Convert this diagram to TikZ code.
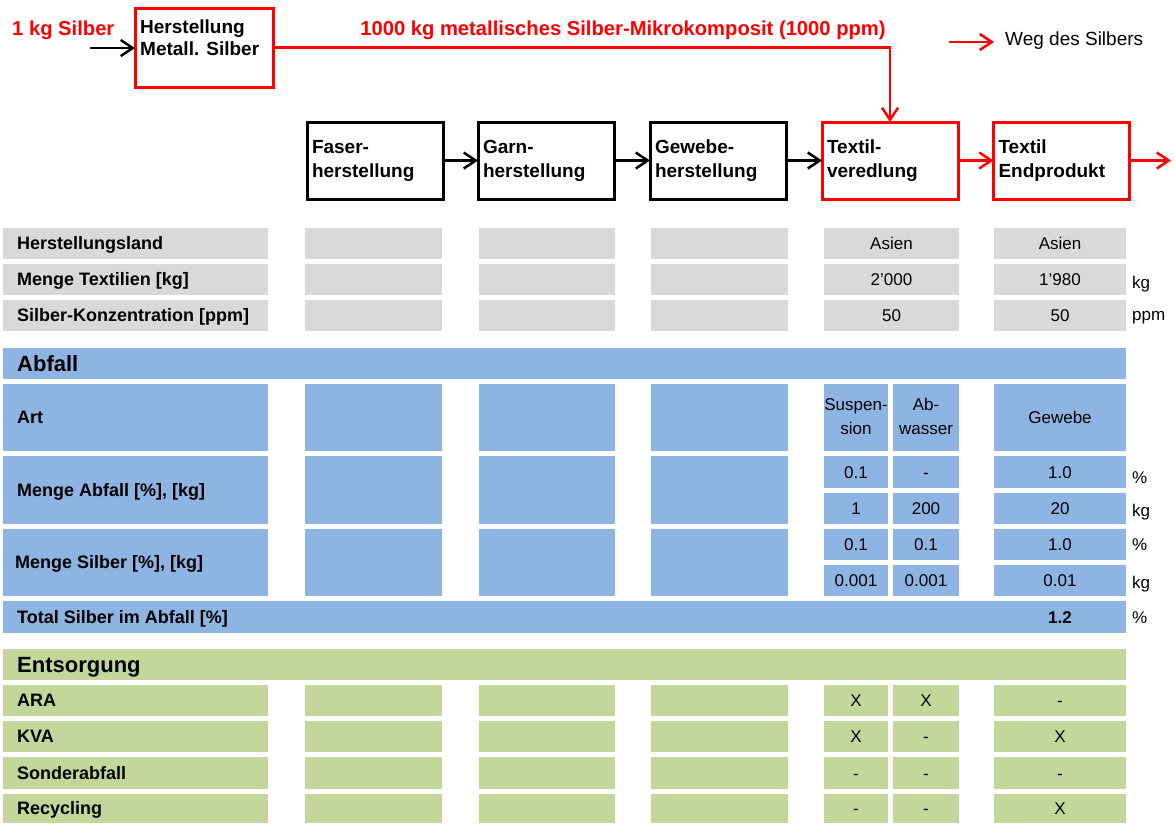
\documentclass[tikz,border=0pt]{standalone}
\usepackage{fontspec}
\setmainfont{Liberation Sans}
\usetikzlibrary{arrows.meta}
\definecolor{cgray}{HTML}{D9D9D9}
\definecolor{cblue}{HTML}{8EB4E3}
\definecolor{cgreen}{HTML}{C4D79B}
\definecolor{cred}{HTML}{FF0000}
\newcommand{\cellbox}[6]{\node[#2, minimum width={(#5)-(#3)}, minimum height={(#6)-(#4)}] (#1) at ({((#3)+(#5))/2},{((#4)+(#6))/2}) {};}
\begin{document}
\begin{tikzpicture}[x=1pt,y=-1pt,
  cellbase/.style={draw=none, inner sep=0pt, outer sep=0pt},
  gcell/.style={cellbase, fill=cgray},
  bcell/.style={cellbase, fill=cblue},
  ncell/.style={cellbase, fill=cgreen},
  lbl/.style={font=\fontsize{18}{21}\selectfont\bfseries, anchor=west, inner sep=0pt, text height=12.9pt, text depth=0pt},
  hdr/.style={font=\fontsize{22}{26}\selectfont\bfseries, anchor=west, inner sep=0pt, text height=15.8pt, text depth=0pt},
  val/.style={font=\fontsize{17}{20}\selectfont, inner sep=0pt, text height=12.2pt, text depth=0pt},
  valtwo/.style={font=\fontsize{17}{24}\selectfont, inner sep=0pt, align=center},
  unit/.style={val, anchor=west},
  pbox/.style={draw=black, line width=3pt, inner xsep=5pt, inner ysep=0pt, outer sep=0pt,
    text width=126pt, minimum height=77pt, align=left, font=\fontsize{19}{24}\selectfont\bfseries},
  rbox/.style={pbox, draw=cred},
  arr/.style={line width=2.5pt, -{Straight Barb[length=12pt,width=16pt]}},
  rarr/.style={arr, draw=cred},
  redtitle/.style={font=\fontsize{20.2}{24}\selectfont\bfseries, text=cred, inner sep=0pt}
]
\useasboundingbox (0,0) rectangle (1175,823);

% ---------- top flow ----------
\node[rbox, minimum height=79pt, text width=128pt] (hm) at (204,47.5) {};
\node[font=\fontsize{19}{22}\selectfont\bfseries, anchor=north west, inner sep=0pt, align=left] (hmt) at (140,17.6) {\strut Herstellung\\\strut Metall. Silber};
\node[redtitle, anchor=base west] (kg1) at (12,35) {1 kg Silber};
\node[redtitle, anchor=base] (mk) at (623,35) {1000 kg metallisches Silber-Mikrokomposit (1000 ppm)};
\coordinate (in) at (90,48);
\draw[arr] (in) -- (in -| hm.west);

\node[pbox] (fa) at (375,160.5) {\strut Faser-\\\strut herstellung};
\node[pbox] (ga) at (546,160.5) {\strut Garn-\\\strut herstellung};
\node[pbox] (ge) at (718,160.5) {\strut Gewebe-\\\strut herstellung};
\node[rbox] (tv) at (890,160.5) {\strut Textil-\\\strut veredlung};
\node[rbox] (te) at (1061.5,160.5) {\strut Textil\\\strut Endprodukt};
\coordinate (out) at (1171,160.5);

\draw[arr] (fa) -- (ga);
\draw[arr] (ga) -- (ge);
\draw[arr] (ge) -- (tv);
\draw[rarr] (tv) -- (te);
\draw[rarr] (te) -- (out);
\draw[rarr] (hm.east) -| (tv.north);

% legend
\coordinate (lga) at (949,42);
\coordinate (lgb) at (994,42);
\draw[rarr] (lga) -- (lgb);
\node[font=\fontsize{19}{22}\selectfont, anchor=base west, inner sep=0pt] (lgt) at (1005,45) {Weg des Silbers};

% ---------- gray rows ----------
\foreach \n/\ya/\yb in {1/228/259, 2/264/295, 3/300/331}{
  \cellbox{gL\n}{gcell}{3}{\ya}{268}{\yb}
  \cellbox{gA\n}{gcell}{305}{\ya}{442}{\yb}
  \cellbox{gB\n}{gcell}{479}{\ya}{615}{\yb}
  \cellbox{gC\n}{gcell}{651}{\ya}{788}{\yb}
  \cellbox{gD\n}{gcell}{824}{\ya}{959}{\yb}
  \cellbox{gE\n}{gcell}{994}{\ya}{1126}{\yb}
}
\node[lbl] (tg1) at ([xshift=14pt]gL1.west) {Herstellungsland};
\node[lbl] (tg2) at ([xshift=14pt]gL2.west) {Menge Textilien [kg]};
\node[lbl] (tg3) at ([xshift=14pt]gL3.west) {Silber-Konzentration [ppm]};
\node[val] (vD1) at (gD1) {Asien};
\node[val] (vE1) at (gE1) {Asien};
\node[val] (vD2) at (gD2) {2'000};
\node[val] (vE2) at (gE2) {1'980};
\node[val] (vD3) at (gD3) {50};
\node[val] (vE3) at (gE3) {50};
\node[unit] (u1) at (1132,282) {kg};
\node[unit] (u2) at (1132,314) {ppm};

% ---------- Abfall ----------
\cellbox{bH}{bcell}{3}{348}{1126}{379}
\node[hdr] (tbH) at ([xshift=14pt]bH.west) {Abfall};

\foreach \n/\ya/\yb in {1/384/451, 2/456/524, 3/529/596}{
  \cellbox{bL\n}{bcell}{3}{\ya}{268}{\yb}
  \cellbox{bA\n}{bcell}{305}{\ya}{442}{\yb}
  \cellbox{bB\n}{bcell}{479}{\ya}{615}{\yb}
  \cellbox{bC\n}{bcell}{651}{\ya}{788}{\yb}
}
\cellbox{bD1a}{bcell}{824}{384}{888}{451}
\cellbox{bD1b}{bcell}{893}{384}{959}{451}
\cellbox{bE1}{bcell}{994}{384}{1126}{451}
\foreach \n/\ya/\yb in {2/456/488, 3/493/524, 4/529/560, 5/565/596}{
  \cellbox{bD\n a}{bcell}{824}{\ya}{888}{\yb}
  \cellbox{bD\n b}{bcell}{893}{\ya}{959}{\yb}
  \cellbox{bE\n}{bcell}{994}{\ya}{1126}{\yb}
}
\cellbox{bT}{bcell}{3}{601}{1126}{633}

\node[lbl] (tb1) at ([xshift=14pt]bL1.west) {Art};
\node[lbl] (tb2) at ([xshift=14pt]bL2.west) {Menge Abfall [\%], [kg]};
\node[lbl] (tb3) at ([xshift=12pt]bL3.west) {Menge Silber [\%], [kg]};
\node[lbl] (tbT) at ([xshift=14pt]bT.west) {Total Silber im Abfall [\%]};

\node[valtwo] (vSu) at (bD1a) {\strut Suspen-\\\strut sion};
\node[valtwo] (vAb) at (bD1b) {\strut Ab-\\\strut wasser};
\node[val] (vGw) at (bE1) {Gewebe};
\node[val] (v2a) at (bD2a) {0.1};
\node[val] (v2b) at (bD2b) {-};
\node[val] (v2e) at (bE2) {1.0};
\node[val] (v3a) at (bD3a) {1};
\node[val] (v3b) at (bD3b) {200};
\node[val] (v3e) at (bE3) {20};
\node[val] (v4a) at (bD4a) {0.1};
\node[val] (v4b) at (bD4b) {0.1};
\node[val] (v4e) at (bE4) {1.0};
\node[val] (v5a) at (bD5a) {0.001};
\node[val] (v5b) at (bD5b) {0.001};
\node[val] (v5e) at (bE5) {0.01};
\node[val, font=\fontsize{17}{20}\selectfont\bfseries] (vT) at (1060,617) {1.2};
\node[unit] (u3) at (1132,477) {\%};
\node[unit] (u4) at (1132,510) {kg};
\node[unit] (u5) at (1132,544) {\%};
\node[unit] (u6) at (1132,582) {kg};
\node[unit] (u7) at (1132,617) {\%};

% ---------- Entsorgung ----------
\cellbox{nH}{ncell}{3}{649}{1126}{680}
\node[hdr] (tnH) at ([xshift=14pt]nH.west) {Entsorgung};
\foreach \n/\ya/\yb in {1/685/716, 2/721/752, 3/757/789, 4/794/823}{
  \cellbox{nL\n}{ncell}{3}{\ya}{268}{\yb}
  \cellbox{nA\n}{ncell}{305}{\ya}{442}{\yb}
  \cellbox{nB\n}{ncell}{479}{\ya}{615}{\yb}
  \cellbox{nC\n}{ncell}{651}{\ya}{788}{\yb}
  \cellbox{nD\n a}{ncell}{824}{\ya}{888}{\yb}
  \cellbox{nD\n b}{ncell}{893}{\ya}{959}{\yb}
  \cellbox{nE\n}{ncell}{994}{\ya}{1126}{\yb}
}
\node[lbl] (tn1) at ([xshift=14pt]nL1.west) {ARA};
\node[lbl] (tn2) at ([xshift=14pt]nL2.west) {KVA};
\node[lbl] (tn3) at ([xshift=14pt]nL3.west) {Sonderabfall};
\node[lbl] (tn4) at ([xshift=14pt]nL4.west) {Recycling};

\node[val] (w1a) at (nD1a) {X};
\node[val] (w1b) at (nD1b) {X};
\node[val] (w1e) at (nE1) {-};
\node[val] (w2a) at (nD2a) {X};
\node[val] (w2b) at (nD2b) {-};
\node[val] (w2e) at (nE2) {X};
\node[val] (w3a) at (nD3a) {-};
\node[val] (w3b) at (nD3b) {-};
\node[val] (w3e) at (nE3) {-};
\node[val] (w4a) at (nD4a) {-};
\node[val] (w4b) at (nD4b) {-};
\node[val] (w4e) at (nE4) {X};
\end{tikzpicture}
\end{document}
